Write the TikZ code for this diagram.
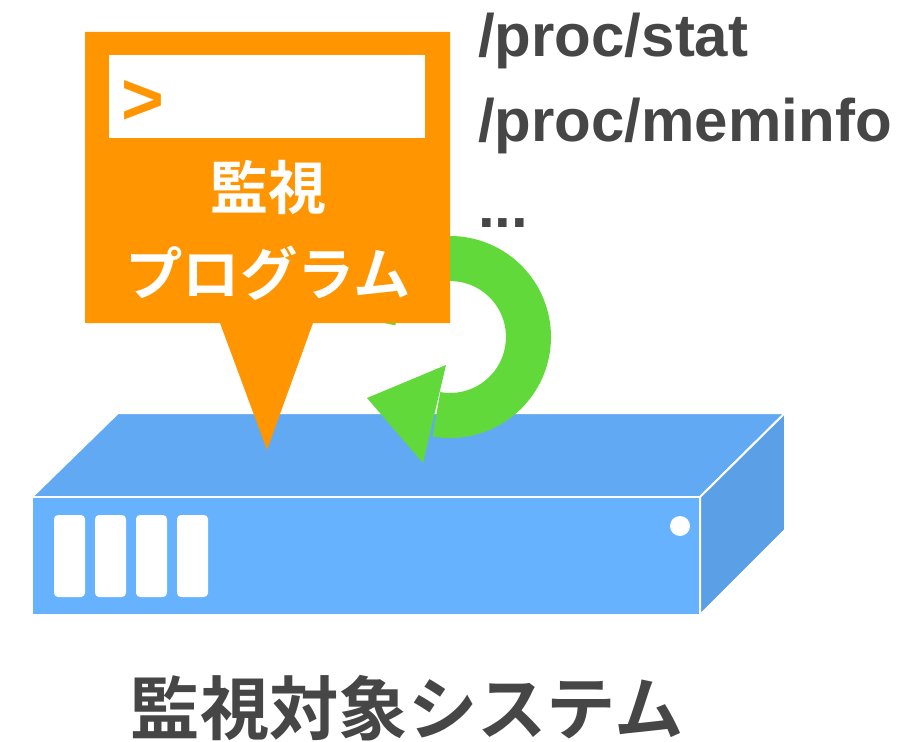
\documentclass[tikz,border=0pt]{standalone}
\usepackage{fontspec}
\setmainfont{Liberation Sans}
\newfontfamily\jpfont{Noto Sans CJK JP}[BoldFont={* Bold}]
\usepackage{tikz}
\pgfdeclarelayer{background}
\pgfdeclarelayer{foreground}
\pgfsetlayers{background,main,foreground}
\definecolor{calloutorange}{HTML}{FF9500}
\definecolor{loopgreen}{HTML}{62D93A}
\definecolor{boxfront}{HTML}{66B2FF}
\definecolor{boxtop}{HTML}{62A9F3}
\definecolor{boxside}{HTML}{5B9FE6}
\definecolor{textgray}{HTML}{464646}

\begin{document}
\begin{tikzpicture}[x=0.75pt,y=0.75pt]
\useasboundingbox (0,0) rectangle (922,-742);
\begin{pgfonlayer}{background}
% server box
\draw[fill=boxtop,draw=white,line width=1.5pt,line join=round] (32,-497) -- (118,-413) -- (785,-413) -- (700,-497) -- cycle;
\draw[fill=boxside,draw=white,line width=1.5pt,line join=round] (700,-497) -- (785,-413) -- (785,-530) -- (700,-615) -- cycle;
\draw[fill=boxfront,draw=white,line width=1.5pt] (32,-497) rectangle (700,-615);
\foreach \i in {0,...,3}
  \fill[white,rounded corners=3] ({54+41*\i},-515) rectangle ++(31,-82);
\fill[white] (680,-526) circle (10);
\end{pgfonlayer}
% loop arrow
\fill[loopgreen] ([shift={(450,-337)}]168:101) arc[start angle=168,end angle=-100,radius=101]
  -- ([shift={(450,-337)}]-100:56) arc[start angle=-100,end angle=168,radius=56] -- cycle;
\fill[loopgreen] (367,-398) -- (446,-365) -- (423,-463) -- cycle;
\begin{pgfonlayer}{foreground}
% callout
\fill[calloutorange] (85,-32) -- (450,-32) -- (450,-323) -- (313,-323) -- (267,-450) -- (220,-323) -- (85,-323) -- cycle;
\fill[white] (109,-55) rectangle (425,-138);
\node[font=\bfseries\fontsize{55}{60}\selectfont,text=calloutorange,inner sep=0] (prompt) at (143,-102) {>};
\node[font=\jpfont\bfseries\fontsize{43.5}{50}\selectfont,text=white,inner sep=0] (kanshi) at (268,-187) {監視};
\node[font=\jpfont\bfseries\fontsize{43}{50}\selectfont,text=white,inner sep=0] (program) at (268,-273) {プログラム};
\end{pgfonlayer}
% files
\node[font=\bfseries\fontsize{45}{50}\selectfont,text=textgray,anchor=base west,inner sep=0] (stat) at (478,-57) {/proc/stat};
\node[font=\bfseries\fontsize{45}{50}\selectfont,text=textgray,anchor=base west,inner sep=0] (meminfo) at (478,-142) {/proc/meminfo};
\node[font=\bfseries\fontsize{45}{50}\selectfont,text=textgray,anchor=base west,inner sep=0] (more) at (478,-227) {...};
% label
\node[font=\jpfont\bfseries\fontsize{52}{60}\selectfont,text=textgray,inner sep=0] (target) at (407,-708) {監視対象システム};
\end{tikzpicture}
\end{document}
